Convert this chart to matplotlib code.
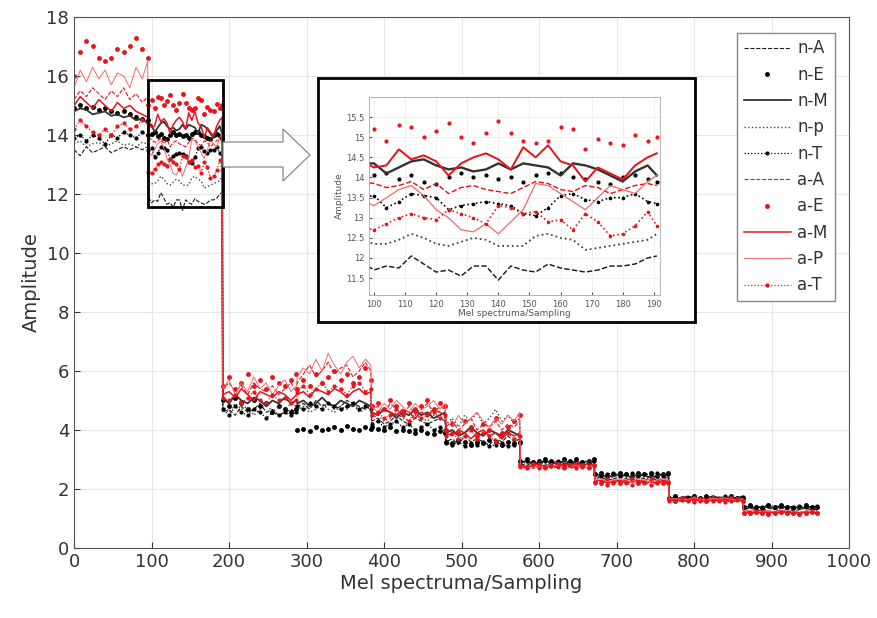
import numpy as np
import matplotlib.pyplot as plt
from matplotlib.patches import Rectangle, Polygon

# Sample positions inside each 96-sample block (block 1 is read finer)
block_len = 96
coarse = [0, 8, 16, 24, 32, 40, 48, 56, 64, 72, 80, 88, 95]
fine = [0, 4, 8, 12, 16, 20, 24, 28, 32, 36, 40, 44, 48,
        52, 56, 60, 64, 68, 72, 76, 80, 84, 88, 92, 95]

# Amplitude per block, one list per block
n_A = [
    [13.5, 13.3, 13.6, 13.4, 13.5, 13.6, 13.4, 13.5, 13.6, 13.5, 13.6, 13.5, 13.6],
    [11.9, 11.7, 11.8, 11.75, 12.05, 11.85, 11.65, 11.7, 11.55, 11.8, 11.8, 11.45, 11.8,
     11.7, 11.65, 11.85, 11.75, 11.7, 11.65, 11.7, 11.8, 11.8, 11.85, 12.0, 12.05],
    [4.6, 4.7, 4.5, 4.8, 4.6, 4.7, 4.9, 4.6, 4.7, 4.5, 4.6, 4.7, 4.6],
    [4.8, 4.9, 4.7, 5.0, 4.8, 4.9, 4.7, 4.8, 5.0, 4.9, 4.8, 4.7, 4.9],
    [4.3, 4.4, 4.2, 4.3, 4.5, 4.3, 4.2, 4.4, 4.3, 4.2, 4.3, 4.4, 4.3],
    [3.6, 3.7, 3.5, 3.8, 3.6, 3.7, 3.6, 3.5, 3.7, 3.6, 3.8, 3.6, 3.7],
    [2.85, 2.8, 2.9, 2.85, 2.8, 2.9, 2.85, 2.8, 2.85, 2.9, 2.8, 2.85, 2.9],
    [2.35, 2.4, 2.3, 2.35, 2.4, 2.35, 2.3, 2.4, 2.35, 2.4, 2.3, 2.35, 2.4],
    [1.65, 1.7, 1.6, 1.65, 1.7, 1.65, 1.6, 1.7, 1.65, 1.7, 1.6, 1.65, 1.7],
    [1.3, 1.35, 1.3, 1.25, 1.35, 1.3, 1.35, 1.3, 1.25, 1.3, 1.35, 1.3, 1.3],
]
n_E = [
    [14.9, 15.0, 14.9, 14.95, 14.85, 14.9, 14.8, 14.75, 14.8, 14.7, 14.6, 14.55, 14.5],
    [14.0, 14.05, 14.1, 13.95, 14.05, 13.9, 13.85, 14.0, 14.1, 14.0, 14.05, 13.95, 14.0,
     13.9, 14.05, 14.1, 14.1, 14.0, 13.95, 13.9, 13.85, 14.0, 14.05, 13.95, 13.9],
    [5.0, 4.8, 5.1, 4.9, 4.7, 5.0, 4.8, 4.9, 4.6, 4.8, 4.7, 4.6, 4.7],
    [4.0, 4.05, 3.95, 4.1, 4.0, 4.05, 4.1, 4.0, 4.15, 4.05, 4.0, 4.1, 4.05],
    [4.1, 4.05, 4.0, 4.1, 3.95, 4.0, 3.95, 3.9, 4.0, 3.9, 3.85, 3.95, 3.9],
    [3.6, 3.55, 3.65, 3.6, 3.5, 3.6, 3.55, 3.65, 3.6, 3.5, 3.6, 3.55, 3.6],
    [2.95, 3.0, 2.9, 2.95, 3.0, 2.95, 2.9, 3.0, 2.95, 3.0, 2.9, 2.95, 3.0],
    [2.5, 2.55, 2.45, 2.5, 2.55, 2.5, 2.45, 2.55, 2.5, 2.55, 2.45, 2.5, 2.55],
    [1.7, 1.75, 1.7, 1.65, 1.75, 1.7, 1.75, 1.7, 1.65, 1.7, 1.75, 1.7, 1.7],
    [1.4, 1.45, 1.4, 1.35, 1.45, 1.4, 1.45, 1.4, 1.35, 1.4, 1.45, 1.4, 1.4],
]
n_M = [
    [14.8, 14.9, 14.85, 14.7, 14.75, 14.8, 14.65, 14.7, 14.6, 14.65, 14.5, 14.55, 14.4],
    [14.35, 14.35, 14.1, 14.25, 14.4, 14.45, 14.3, 14.2, 14.25, 14.15, 14.2, 14.35, 14.2,
     14.35, 14.3, 14.25, 14.05, 14.35, 14.3, 14.2, 14.05, 13.9, 14.15, 14.3, 14.05],
    [5.1, 4.9, 5.2, 5.0, 4.9, 5.1, 5.0, 4.8, 5.0, 4.9, 5.1, 4.9, 5.0],
    [4.9, 5.0, 4.8, 4.9, 5.1, 4.9, 4.8, 5.0, 4.9, 4.8, 5.0, 4.9, 4.8],
    [4.6, 4.5, 4.7, 4.6, 4.4, 4.6, 4.5, 4.7, 4.5, 4.6, 4.4, 4.5, 4.6],
    [3.9, 4.0, 3.8, 3.9, 4.1, 3.9, 3.8, 4.0, 3.9, 3.8, 4.0, 3.9, 3.8],
    [2.9, 2.95, 2.85, 2.9, 2.95, 2.9, 2.85, 2.95, 2.9, 2.85, 2.9, 2.95, 2.9],
    [2.45, 2.5, 2.4, 2.45, 2.5, 2.45, 2.4, 2.5, 2.45, 2.4, 2.45, 2.5, 2.45],
    [1.7, 1.65, 1.7, 1.75, 1.7, 1.65, 1.7, 1.75, 1.7, 1.65, 1.7, 1.7, 1.75],
    [1.38, 1.4, 1.35, 1.4, 1.38, 1.35, 1.4, 1.38, 1.4, 1.35, 1.38, 1.4, 1.38],
]
n_p = [
    [13.7, 13.8, 13.6, 13.7, 13.75, 13.6, 13.7, 13.8, 13.65, 13.7, 13.6, 13.75, 13.7],
    [12.45, 12.35, 12.35, 12.45, 12.6, 12.5, 12.35, 12.3, 12.4, 12.5, 12.45, 12.3, 12.3,
     12.3, 12.55, 12.6, 12.5, 12.45, 12.2, 12.25, 12.3, 12.35, 12.4, 12.45, 12.6],
    [4.8, 4.6, 4.9, 4.7, 4.8, 4.5, 4.7, 4.9, 4.6, 4.8, 4.7, 4.9, 4.8],
    [4.7, 4.8, 4.6, 4.7, 4.9, 4.7, 4.6, 4.8, 4.7, 4.9, 4.6, 4.7, 4.8],
    [4.4, 4.5, 4.3, 4.4, 4.6, 4.4, 4.3, 4.5, 4.4, 4.3, 4.5, 4.4, 4.3],
    [4.2, 4.4, 4.1, 4.5, 4.3, 4.6, 4.2, 4.4, 4.7, 4.3, 4.5, 4.2, 4.4],
    [2.85, 2.9, 2.8, 2.85, 2.9, 2.8, 2.85, 2.9, 2.8, 2.85, 2.9, 2.85, 2.8],
    [2.4, 2.45, 2.35, 2.4, 2.45, 2.4, 2.35, 2.45, 2.4, 2.35, 2.4, 2.45, 2.4],
    [1.65, 1.7, 1.65, 1.6, 1.7, 1.65, 1.7, 1.65, 1.6, 1.65, 1.7, 1.65, 1.65],
    [1.35, 1.38, 1.32, 1.35, 1.4, 1.35, 1.32, 1.38, 1.35, 1.32, 1.35, 1.38, 1.35],
]
n_T = [
    [13.9, 14.0, 13.8, 14.0, 13.9, 13.7, 14.0, 13.9, 14.1, 14.0, 13.9, 14.1, 14.0],
    [13.5, 13.55, 13.25, 13.4, 13.6, 13.55, 13.5, 13.2, 13.3, 13.35, 13.4, 13.35, 13.3,
     13.1, 13.05, 13.25, 13.55, 13.6, 13.45, 13.4, 13.5, 13.5, 13.6, 13.4, 13.35],
    [4.7, 4.5, 4.8, 4.6, 4.5, 4.7, 4.6, 4.4, 4.6, 4.5, 4.6, 4.5, 4.6],
    [4.8, 4.7, 4.9, 4.8, 4.7, 4.9, 4.8, 4.7, 4.8, 4.9, 4.7, 4.8, 4.7],
    [4.2, 4.3, 4.1, 4.2, 4.3, 4.1, 4.2, 4.0, 4.1, 4.2, 4.0, 4.1, 4.0],
    [3.55, 3.5, 3.6, 3.45, 3.55, 3.5, 3.6, 3.45, 3.5, 3.55, 3.45, 3.5, 3.55],
    [2.9, 2.95, 2.9, 2.85, 2.95, 2.9, 2.95, 2.85, 2.9, 2.95, 2.9, 2.85, 2.95],
    [2.5, 2.45, 2.5, 2.55, 2.45, 2.5, 2.55, 2.45, 2.5, 2.5, 2.55, 2.45, 2.5],
    [1.7, 1.72, 1.68, 1.7, 1.75, 1.7, 1.68, 1.72, 1.7, 1.75, 1.7, 1.68, 1.72],
    [1.4, 1.42, 1.38, 1.4, 1.45, 1.4, 1.42, 1.38, 1.4, 1.42, 1.4, 1.38, 1.42],
]
a_A = [
    [15.2, 15.5, 15.3, 15.6, 15.4, 15.2, 15.5, 15.3, 15.6, 15.2, 15.4, 15.1, 15.3],
    [13.9, 13.85, 13.75, 13.8, 13.9, 13.7, 13.85, 13.6, 13.75, 13.8, 13.7, 13.65, 13.6,
     13.75, 13.9, 13.85, 13.7, 13.65, 13.8, 13.75, 13.6, 13.7, 13.8, 13.85, 13.8],
    [5.4, 5.6, 5.3, 5.5, 5.2, 5.6, 5.4, 5.3, 5.5, 5.2, 5.4, 5.6, 5.3],
    [5.6, 5.9, 6.2, 5.8, 6.0, 6.3, 5.9, 6.1, 6.2, 5.8, 6.0, 6.3, 6.0],
    [4.7, 4.8, 4.6, 4.9, 4.7, 4.5, 4.8, 4.6, 4.7, 4.9, 4.6, 4.8, 4.7],
    [4.1, 4.3, 4.0, 4.2, 4.4, 4.0, 4.2, 4.1, 4.3, 4.0, 4.2, 4.1, 4.3],
    [2.75, 2.8, 2.7, 2.75, 2.8, 2.7, 2.75, 2.8, 2.7, 2.75, 2.8, 2.75, 2.7],
    [2.3, 2.25, 2.35, 2.3, 2.25, 2.3, 2.35, 2.25, 2.3, 2.35, 2.3, 2.25, 2.3],
    [1.65, 1.6, 1.7, 1.65, 1.6, 1.65, 1.7, 1.6, 1.65, 1.7, 1.65, 1.6, 1.65],
    [1.25, 1.22, 1.28, 1.25, 1.2, 1.25, 1.28, 1.22, 1.25, 1.2, 1.25, 1.28, 1.25],
]
a_E = [
    [16.0, 16.8, 17.2, 17.0, 16.6, 16.5, 16.6, 16.9, 16.8, 17.0, 17.3, 16.9, 16.6],
    [15.0, 15.2, 14.9, 15.3, 15.25, 15.0, 15.15, 15.35, 15.0, 14.85, 15.1, 15.4, 15.1,
     14.9, 14.85, 14.9, 15.25, 15.2, 14.7, 14.95, 14.85, 14.8, 15.05, 14.9, 15.0],
    [5.5, 5.8, 5.4, 5.6, 5.9, 5.5, 5.7, 5.4, 5.8, 5.6, 5.5, 5.7, 5.9],
    [5.4, 5.7, 5.5, 5.9, 5.6, 5.8, 6.0, 5.7, 5.9, 5.6, 5.8, 6.1, 5.7],
    [4.8, 4.9, 4.7, 5.0, 4.8, 4.6, 4.9, 4.7, 4.8, 5.0, 4.7, 4.9, 4.8],
    [4.0, 4.2, 3.9, 4.3, 4.1, 3.8, 4.2, 4.0, 4.4, 3.9, 4.1, 4.3, 4.5],
    [2.8, 2.75, 2.85, 2.8, 2.75, 2.8, 2.85, 2.75, 2.8, 2.85, 2.8, 2.75, 2.8],
    [2.25, 2.2, 2.3, 2.25, 2.2, 2.25, 2.3, 2.2, 2.25, 2.3, 2.25, 2.2, 2.25],
    [1.65, 1.6, 1.7, 1.62, 1.68, 1.65, 1.6, 1.7, 1.65, 1.62, 1.68, 1.65, 1.6],
    [1.2, 1.18, 1.22, 1.2, 1.15, 1.2, 1.22, 1.18, 1.2, 1.15, 1.2, 1.22, 1.2],
]
a_M = [
    [15.0, 15.3, 15.1, 14.9, 15.2, 15.0, 14.8, 15.1, 14.9, 15.0, 14.8, 14.7, 14.6],
    [14.4, 14.25, 14.3, 14.7, 14.45, 14.55, 14.4, 14.05, 14.35, 14.5, 14.6, 14.45, 14.2,
     14.75, 14.5, 14.8, 14.4, 14.3, 13.9, 14.25, 14.1, 13.95, 14.3, 14.5, 14.6],
    [5.2, 5.3, 5.1, 5.4, 5.2, 5.0, 5.3, 5.2, 5.1, 5.3, 5.2, 5.0, 5.2],
    [5.2, 5.3, 5.1, 5.4, 5.3, 5.2, 5.4, 5.3, 5.1, 5.3, 5.4, 5.2, 5.3],
    [4.6, 4.5, 4.7, 4.6, 4.5, 4.7, 4.6, 4.4, 4.6, 4.5, 4.7, 4.6, 4.5],
    [3.9, 3.8, 4.0, 3.9, 3.7, 3.9, 4.0, 3.8, 3.9, 3.7, 3.9, 3.8, 3.9],
    [2.8, 2.75, 2.8, 2.85, 2.75, 2.8, 2.75, 2.85, 2.8, 2.75, 2.8, 2.85, 2.8],
    [2.25, 2.3, 2.2, 2.25, 2.3, 2.2, 2.25, 2.3, 2.2, 2.25, 2.2, 2.3, 2.25],
    [1.6, 1.62, 1.58, 1.6, 1.65, 1.6, 1.58, 1.62, 1.6, 1.65, 1.6, 1.58, 1.62],
    [1.2, 1.22, 1.18, 1.2, 1.22, 1.18, 1.2, 1.22, 1.18, 1.2, 1.22, 1.2, 1.18],
]
a_P = [
    [15.6, 16.2, 15.8, 16.3, 15.9, 16.2, 15.7, 16.1, 16.0, 15.6, 16.3, 15.9, 16.5],
    [13.45, 13.3, 13.5, 13.7, 13.8, 13.55, 13.2, 13.0, 12.7, 12.65, 12.85, 12.6, 12.9,
     13.2, 13.85, 13.8, 13.6, 13.4, 13.2, 13.5, 13.8, 13.7, 13.6, 13.9, 14.05],
    [5.4, 5.7, 5.2, 5.6, 5.3, 5.8, 5.4, 5.6, 5.2, 5.5, 5.7, 5.3, 5.5],
    [5.8, 6.1, 5.9, 6.4, 6.0, 6.6, 6.2, 5.9, 6.3, 6.5, 6.1, 6.4, 6.2],
    [4.8, 4.6, 4.9, 4.7, 5.0, 4.8, 4.6, 4.9, 4.7, 4.8, 5.0, 4.7, 4.9],
    [4.3, 4.1, 4.5, 4.2, 4.4, 4.6, 4.3, 4.1, 4.4, 4.2, 4.5, 4.3, 4.6],
    [2.75, 2.7, 2.8, 2.75, 2.7, 2.75, 2.8, 2.7, 2.75, 2.8, 2.7, 2.75, 2.8],
    [2.3, 2.35, 2.25, 2.3, 2.35, 2.3, 2.25, 2.35, 2.3, 2.25, 2.3, 2.35, 2.3],
    [1.65, 1.68, 1.62, 1.65, 1.7, 1.65, 1.62, 1.68, 1.65, 1.7, 1.65, 1.62, 1.68],
    [1.25, 1.28, 1.22, 1.25, 1.28, 1.22, 1.25, 1.28, 1.25, 1.22, 1.25, 1.28, 1.25],
]
a_T = [
    [14.2, 14.5, 14.3, 14.1, 14.0, 14.2, 14.0, 14.3, 14.4, 14.2, 14.3, 14.5, 14.4],
    [12.75, 12.7, 12.85, 13.0, 13.1, 13.0, 12.95, 13.2, 13.1, 13.0, 12.85, 13.3, 13.25,
     13.1, 13.15, 12.9, 12.95, 12.7, 13.1, 12.9, 12.55, 12.6, 12.8, 13.15, 12.8],
    [5.1, 5.0, 5.2, 4.9, 5.1, 5.3, 5.0, 4.9, 5.2, 5.0, 5.1, 4.9, 5.0],
    [5.3, 5.5, 5.2, 5.4, 5.6, 5.3, 5.5, 5.4, 5.2, 5.5, 5.6, 5.3, 5.4],
    [4.5, 4.6, 4.4, 4.5, 4.7, 4.5, 4.3, 4.6, 4.4, 4.5, 4.6, 4.4, 4.5],
    [3.8, 3.9, 3.7, 3.8, 4.0, 3.7, 3.9, 3.8, 3.6, 3.8, 3.9, 3.7, 3.8],
    [2.75, 2.7, 2.8, 2.72, 2.7, 2.78, 2.75, 2.7, 2.8, 2.72, 2.75, 2.7, 2.78],
    [2.2, 2.25, 2.15, 2.2, 2.25, 2.2, 2.15, 2.25, 2.2, 2.15, 2.2, 2.25, 2.2],
    [1.6, 1.58, 1.62, 1.6, 1.55, 1.6, 1.62, 1.58, 1.6, 1.55, 1.6, 1.62, 1.6],
    [1.2, 1.18, 1.22, 1.2, 1.15, 1.2, 1.22, 1.18, 1.2, 1.15, 1.2, 1.22, 1.2],
]

labels = ['n-A', 'n-E', 'n-M', 'n-p', 'n-T', 'a-A', 'a-E', 'a-M', 'a-P', 'a-T']
series = [n_A, n_E, n_M, n_p, n_T, a_A, a_E, a_M, a_P, a_T]

RED = '#e8141c'
PINK = '#ef6a6f'
DARK = '#1a1a1a'
styles = [
    dict(color=DARK, ls='--', lw=0.8),
    dict(color='black', ls='none', marker='.', ms=5),
    dict(color='#333333', ls='-', lw=1.3),
    dict(color='#444444', ls=':', lw=1.0),
    dict(color='black', ls=':', lw=0.9, marker='.', ms=4),
    dict(color=RED, ls='--', lw=0.8),
    dict(color=RED, ls='none', marker='.', ms=5),
    dict(color=RED, ls='-', lw=1.1),
    dict(color=PINK, ls='-', lw=0.7),
    dict(color=RED, ls=':', lw=0.9, marker='.', ms=4),
]


def sample_x():
    xs = []
    for b in range(10):
        offs = fine if b == 1 else coarse
        xs.extend(b * block_len + o for o in offs)
    return np.array(xs)


x = sample_x()
TXT = '#333333'

fig = plt.figure(figsize=(8.77, 6.18), dpi=100)
ax = fig.add_axes([0.0844, 0.1133, 0.8837, 0.8592])

for vals, lab, st in zip(series, labels, styles):
    y = np.concatenate([np.array(v, dtype=float) for v in vals])
    ax.plot(x, y, label=lab, **st)

ax.set_xlim(0, 1000)
ax.set_ylim(0, 18)
ax.set_xticks(np.arange(0, 1001, 100))
ax.set_yticks(np.arange(0, 19, 2))
ax.grid(True, color='#e6e6e6', lw=0.8)
ax.set_axisbelow(True)
ax.tick_params(direction='in', labelsize=13, colors=TXT, length=4)
for s in ax.spines.values():
    s.set_color('#555555')
    s.set_linewidth(0.8)
ax.set_xlabel('Mel spectruma/Sampling', fontsize=14, color=TXT, labelpad=2)
ax.set_ylabel('Amplitude', fontsize=14, color=TXT, labelpad=4)

leg = ax.legend(loc='upper left', bbox_to_anchor=(0.845, 0.986), fontsize=12,
                numpoints=1, handlelength=2.8, labelspacing=0.5, borderpad=0.4,
                handletextpad=0.4, fancybox=False, framealpha=1,
                edgecolor='#888888')
for t in leg.get_texts():
    t.set_color(TXT)

# zoom window on the main axes
ax.add_patch(Rectangle((95, 11.55), 97, 4.3, fill=False, ec='black', lw=2, zorder=5))

# hollow arrow pointing at the inset, built in figure pixels
W, H = 877.0, 618.0
arrow_px = [(223, 142), (283, 142), (283, 129), (310, 155), (283, 181),
            (283, 167), (223, 167)]
arrow_fig = [(px / W, 1 - py / H) for px, py in arrow_px]
fig.patches.append(Polygon(arrow_fig, closed=True, fill=True, fc='white',
                           ec='#888888', lw=0.9, transform=fig.transFigure))

# inset frame
fig.patches.append(Rectangle((318 / W, 1 - 322 / H), 377 / W, 244 / H,
                             fill=True, fc='white', ec='black', lw=2,
                             transform=fig.transFigure, zorder=3))

# inset: the zoomed block only
ins = fig.add_axes([369 / W, 1 - 295 / H, 291 / W, 198 / H], zorder=4)
x_zoom = block_len + np.array(fine)
for vals, st in zip(series, styles):
    st2 = dict(st)
    if 'lw' in st2:
        st2['lw'] = st2['lw'] * 1.3
    if 'ms' in st2:
        st2['ms'] = st2['ms'] * 0.8
    ins.plot(x_zoom, vals[1], **st2)
ins.set_xlim(98.4, 192)
ins.set_ylim(11.08, 16.0)
ins.set_xticks(np.arange(100, 191, 10))
ins.set_yticks(np.arange(11.5, 15.6, 0.5))
ins.set_yticklabels(['11.5', '12', '12.5', '13', '13.5', '14', '14.5', '15', '15.5'])
ins.grid(True, color='#eeeeee', lw=0.6)
ins.tick_params(direction='in', labelsize=6, colors='#555555', length=2)
for s in ins.spines.values():
    s.set_color('#aaaaaa')
    s.set_linewidth(0.6)
ins.set_xlabel('Mel spectruma/Sampling', fontsize=6.5, color='#555555', labelpad=0)
ins.set_ylabel('Amplitude', fontsize=6.5, color='#555555', labelpad=1)

fig.savefig('out.png', dpi=100)
